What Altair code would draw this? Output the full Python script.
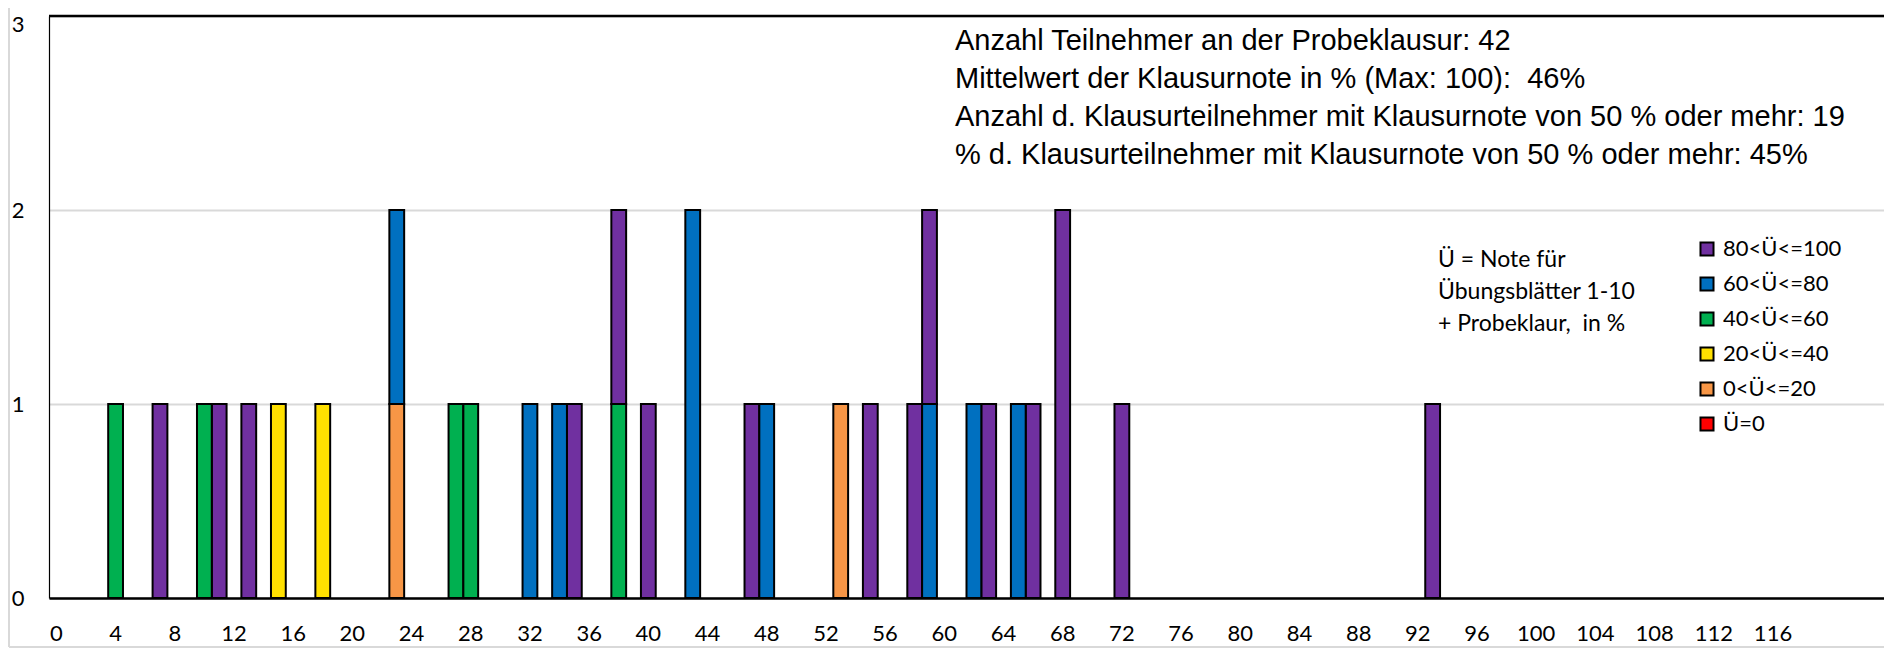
import altair as alt
import pandas as pd

# ---- data ----
CATEGORIES = list(range(124))                 # x categories (points in %)
TICK_LABELS = list(range(0, 117, 4))          # labelled categories
SERIES = ["80<Ü<=100", "60<Ü<=80", "40<Ü<=60", "20<Ü<=40", "0<Ü<=20", "Ü=0"]
COLORS = ["#7030A0", "#0070C0", "#00B050", "#FFE000", "#F79646", "#FF0000"]
STACK_ORDER = [5, 4, 3, 2, 1, 0]

PURPLE_CATS = [7, 11, 13, 35, 38, 40, 47, 55, 58, 59, 63, 66, 68, 72, 93]
PURPLE_COUNTS = [1, 1, 1, 1, 1, 1, 1, 1, 1, 1, 1, 1, 2, 1, 1]
BLUE_CATS = [23, 32, 34, 43, 48, 59, 62, 65]
BLUE_COUNTS = [1, 1, 1, 2, 1, 1, 1, 1]
GREEN_CATS = [4, 10, 27, 28, 38]
GREEN_COUNTS = [1, 1, 1, 1, 1]
YELLOW_CATS = [15, 18]
YELLOW_COUNTS = [1, 1]
ORANGE_CATS = [23, 53]
ORANGE_COUNTS = [1, 1]
RED_CATS = []
RED_COUNTS = []

ANNOTATION = [
    "Anzahl Teilnehmer an der Probeklausur: 42",
    "Mittelwert der Klausurnote in % (Max: 100):\u00a0\u00a046%",
    "Anzahl d. Klausurteilnehmer mit Klausurnote von 50 % oder mehr: 19",
    "% d. Klausurteilnehmer mit Klausurnote von 50 % oder mehr: 45%",
]
NOTE = ["Ü = Note für", "Übungsblätter 1-10", "+ Probeklaur,\u00a0\u00a0in %"]

# ---- build table ----
rows = []
groups = [
    (PURPLE_CATS, PURPLE_COUNTS), (BLUE_CATS, BLUE_COUNTS), (GREEN_CATS, GREEN_COUNTS),
    (YELLOW_CATS, YELLOW_COUNTS), (ORANGE_CATS, ORANGE_COUNTS), (RED_CATS, RED_COUNTS),
]
for name, order, (cats, counts) in zip(SERIES, STACK_ORDER, groups):
    for c, n in zip(cats, counts):
        rows.append({"cat": c, "series": name, "n": n, "ord": order})
df = pd.DataFrame(rows)

W, H = 1835, 582
CAL = "Lato, 'Open Sans', sans-serif"
ARIAL = "'Liberation Sans', Arial, sans-serif"

bars = alt.Chart(df).mark_bar(stroke="black", strokeWidth=2).encode(
    x=alt.X(
        "cat:O",
        scale=alt.Scale(domain=CATEGORIES, paddingInner=0, paddingOuter=0),
        axis=alt.Axis(
            title=None, values=TICK_LABELS, labelAngle=0, ticks=False,
            domainColor="black", domainWidth=2.5, labelPadding=25,
            labelFont=CAL, labelFontSize=22, labelColor="black",
            labelOverlap=False, grid=False,
        ),
    ),
    y=alt.Y(
        "n:Q", stack="zero",
        scale=alt.Scale(domain=[0, 3], nice=False),
        axis=alt.Axis(
            title=None, values=[0, 1, 2, 3], format="d", ticks=False,
            grid=True, gridColor="#d9d9d9", gridWidth=2,
            domainColor="black", domainWidth=1.2, labelPadding=25,
            labelFont=CAL, labelFontSize=22, labelColor="black",
            labelOffset={"condition": {"test": "datum.value == 3", "value": 8}, "value": 0},
        ),
    ),
    color=alt.Color(
        "series:N",
        scale=alt.Scale(domain=SERIES, range=COLORS),
        legend=alt.Legend(
            title=None, orient="none", legendX=1647, legendY=222,
            symbolType="square", symbolSize=170, symbolStrokeColor="black",
            symbolStrokeWidth=2, symbolOpacity=1, labelFont=CAL, labelFontSize=22,
            labelColor="black", rowPadding=13, labelOffset=5, padding=0,
        ),
    ),
    order=alt.Order("ord:Q", sort="ascending"),
)

top_rule = alt.Chart(pd.DataFrame({"v": [3]})).mark_rule(
    color="black", strokeWidth=2.5
).encode(y="v:Q")

annot = alt.Chart(pd.DataFrame({"t": ["\n".join(ANNOTATION)]})).mark_text(
    align="left", baseline="alphabetic", font=ARIAL, fontSize=29,
    lineBreak="\n", lineHeight=38, color="black",
).encode(x=alt.value(906), y=alt.value(34), text="t:N")

note = alt.Chart(pd.DataFrame({"t": ["\n".join(NOTE)]})).mark_text(
    align="left", baseline="alphabetic", font=CAL, fontSize=23,
    lineBreak="\n", lineHeight=32, color="black",
).encode(x=alt.value(1389), y=alt.value(251), text="t:N")

frame_left = alt.Chart(pd.DataFrame({"a": [0]})).mark_rule(
    color="#d9d9d9", strokeWidth=2
).encode(x=alt.value(-40), y=alt.value(-8), y2=alt.value(631))
frame_bottom = alt.Chart(pd.DataFrame({"a": [0]})).mark_rule(
    color="#d9d9d9", strokeWidth=2
).encode(x=alt.value(-40), x2=alt.value(W), y=alt.value(631))

chart = alt.layer(bars, top_rule, annot, note, frame_left, frame_bottom).properties(
    width=W, height=H,
    autosize=alt.AutoSizeParams(type="none"),
    padding={"left": 41, "top": 8, "right": 0, "bottom": 50},
).configure_view(stroke=None).configure(background="white")

chart.save("out.html", embed_options={"renderer": "svg", "actions": False})
